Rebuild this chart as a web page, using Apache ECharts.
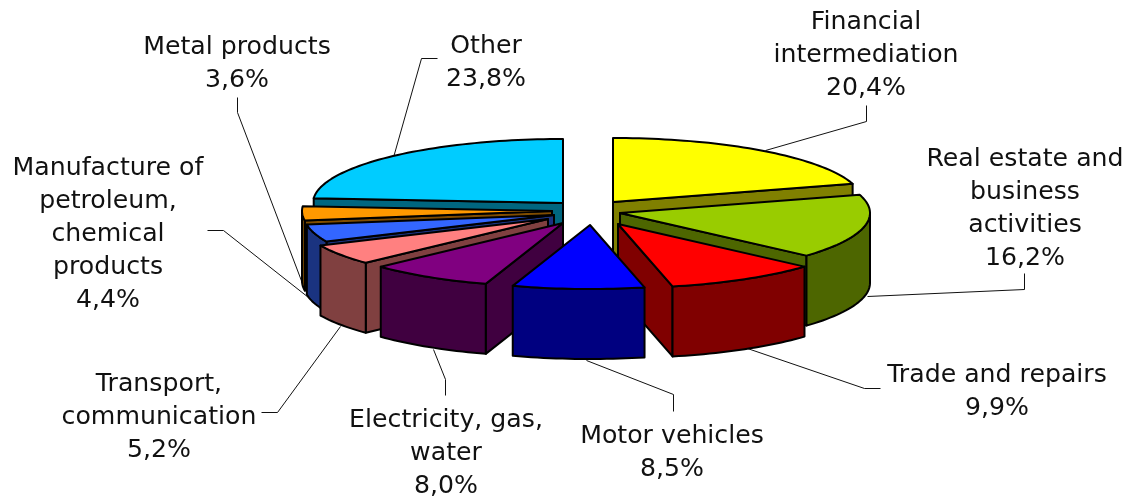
<!DOCTYPE html>
<html>
<head>
<meta charset="utf-8">
<style>html,body{margin:0;padding:0;background:#fff}#chart{width:1134px;height:499px}</style>
<script src="https://cdn.jsdelivr.net/npm/echarts@6/dist/echarts.min.js"></script>
</head>
<body>
<div id="chart"></div>
<script>
// Data, clockwise from twelve o'clock
const sliceNames = ['Financial\nintermediation', 'Real estate and\nbusiness\nactivities', 'Trade and repairs', 'Motor vehicles', 'Electricity, gas,\nwater', 'Transport,\ncommunication', 'Manufacture of\npetroleum,\nchemical\nproducts', 'Metal products', 'Other'];
const sliceValues = [20.4, 16.2, 9.9, 8.5, 8.0, 5.2, 4.4, 3.6, 23.8];

// Styles
const topColors = ['#FFFF00', '#99CC00', '#FF0000', '#0000FF', '#800080', '#FF8080', '#3366FF', '#FF9900', '#00CCFF'];
const wallColors = ['#808000', '#4D6600', '#800000', '#000080', '#400040', '#804040', '#1A3380', '#804D00', '#006680'];

// Layout
const center = [590, 211];
const radiusX = 250, radiusY = 64, depth = 70;
const explodeOffsets = [[23, -9], [30, 2], [28, 13], [0, 14], [-27, 12], [-42, 8], [-36, 4], [-38, 0], [-27, -8]];
const drawOrder = [8, 7, 6, 5, 4, 0, 1, 2, 3];
const labelAnchors = [[866, 56], [1025, 209], [997, 392], [672, 453], [446, 454], [159, 418], [108, 235], [237, 64], [486, 63]];
const leaderPaths = [
  [[765, 150], [866, 121], [866, 105]],
  [[867, 296], [1024, 289], [1024, 273]],
  [[747, 348], [864, 388], [880, 388]],
  [[586, 360], [673, 394], [673, 411]],
  [[433, 349], [445, 379], [445, 395]],
  [[340, 326], [277, 412], [261, 412]],
  [[308, 297], [223, 230], [207, 230]],
  [[302, 283], [237, 112], [237, 97]],
  [[393, 157], [421, 58], [437, 58]]
];
const FONT = '24px "DejaVu Sans"';
const TEXT_WIDEN = 1.05;

const total = sliceValues.reduce((a, b) => a + b, 0);
const rad = d => d * Math.PI / 180;
let running = 0;
const slices = sliceValues.map((v, i) => {
  const start = running / total * 360;
  running += v;
  const end = running / total * 360;
  return {
    start, end,
    apex: [center[0] + explodeOffsets[i][0], center[1] + explodeOffsets[i][1]]
  };
});

function rimPoint(s, deg, drop) {
  return [s.apex[0] + radiusX * Math.sin(rad(deg)), s.apex[1] - radiusY * Math.cos(rad(deg)) + drop];
}
function arc(s, from, to, drop) {
  const n = Math.max(2, Math.ceil((to - from) / 1.5));
  const pts = [];
  for (let k = 0; k <= n; k++) pts.push(rimPoint(s, from + (to - from) * k / n, drop));
  return pts;
}
function face(points, fill) {
  return { type: 'polygon', shape: { points }, style: { fill, stroke: '#000', lineWidth: 2, lineJoin: 'round' } };
}
function cutWall(s, deg, fill) {
  const p = rimPoint(s, deg, 0);
  return face([s.apex, p, [p[0], p[1] + depth], [s.apex[0], s.apex[1] + depth]], fill);
}

function renderSlice(params, api) {
  const i = api.value(0), s = slices[i], wall = wallColors[i];
  const children = [];
  if (Math.sin(rad(s.start)) < 0) children.push(cutWall(s, s.start, wall));
  if (Math.sin(rad(s.end)) > 0) children.push(cutWall(s, s.end, wall));
  const from = Math.max(s.start, 90), to = Math.min(s.end, 270);
  if (to > from) {
    children.push(face(arc(s, from, to, 0).concat(arc(s, from, to, depth).reverse()), wall));
  }
  children.push(face([s.apex].concat(arc(s, s.start, s.end, 0)), topColors[i]));
  return { type: 'group', children };
}
function renderLeader(params, api) {
  return {
    type: 'polyline',
    shape: { points: leaderPaths[api.value(0)].map(p => [p[0] + 0.5, p[1] + 0.5]) },
    style: { fill: null, stroke: '#111', lineWidth: 1 }
  };
}
function renderLabel(params, api) {
  const i = api.value(0);
  return {
    type: 'text',
    x: labelAnchors[i][0], y: labelAnchors[i][1],
    scaleX: TEXT_WIDEN, scaleY: 1,
    style: {
      text: sliceNames[i] + '\n' + sliceValues[i].toFixed(1).replace('.', ',') + '%',
      x: 0, y: 0,
      font: FONT, fill: '#111', align: 'center', verticalAlign: 'middle', lineHeight: 33
    }
  };
}

const indices = sliceValues.map((_, i) => [i]);
const chart = echarts.init(document.getElementById('chart'), null, { renderer: 'canvas' });
chart.setOption({
  animation: false,
  backgroundColor: '#fff',
  series: [
    { type: 'custom', coordinateSystem: 'none', silent: true, renderItem: renderLeader, data: indices, z: 1 },
    { type: 'custom', coordinateSystem: 'none', silent: true, renderItem: renderSlice, data: drawOrder.map(i => [i]), z: 2 },
    { type: 'custom', coordinateSystem: 'none', silent: true, renderItem: renderLabel, data: indices, z: 3 }
  ]
});
</script>
</body>
</html>
